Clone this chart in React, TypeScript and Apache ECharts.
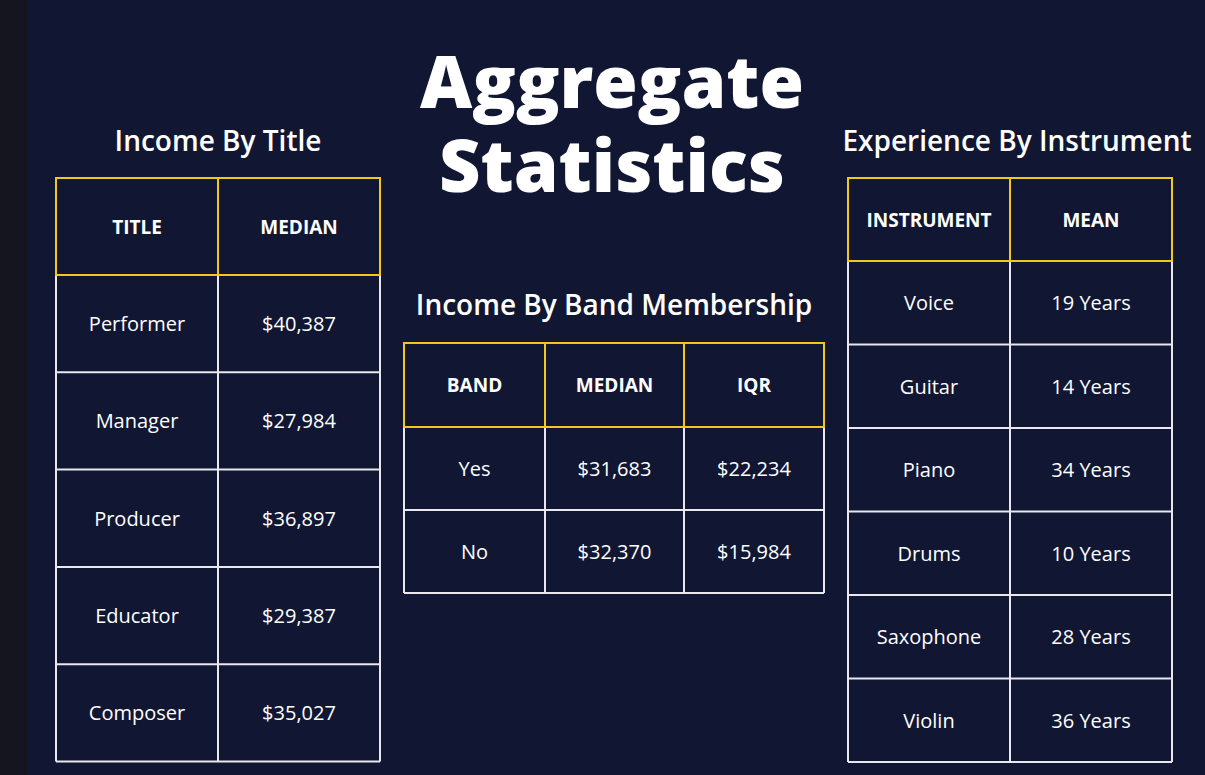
import React, { useEffect, useRef } from "react";
import * as echarts from "echarts";

const titleHeaders = ["TITLE", "MEDIAN"];
const titleNames = ["Performer", "Manager", "Producer", "Educator", "Composer"];
const titleMedians = ["$40,387", "$27,984", "$36,897", "$29,387", "$35,027"];

const bandHeaders = ["BAND", "MEDIAN", "IQR"];
const bandNames = ["Yes", "No"];
const bandMedians = ["$31,683", "$32,370"];
const bandIqr = ["$22,234", "$15,984"];

const instHeaders = ["INSTRUMENT", "MEAN"];
const instNames = ["Voice", "Guitar", "Piano", "Drums", "Saxophone", "Violin"];
const instMeans = ["19 Years", "14 Years", "34 Years", "10 Years", "28 Years", "36 Years"];

const FONT = "'Open Sans', 'Noto Sans', sans-serif";
const GOLD = "#f2c81e";

function table(cols: number[], top: number, headH: number, rowH: number, headers: string[], rows: string[][]) {
  const els: any[] = [];
  const left = cols[0], right = cols[cols.length - 1];
  const n = rows.length;
  const bottom = top + headH + rowH * n;
  for (let i = 0; i <= n; i++) {
    const y = top + headH + rowH * i;
    els.push({ type: "line", shape: { x1: left, y1: y, x2: right, y2: y }, style: { stroke: "#e8e8ee", lineWidth: 2 } });
  }
  cols.forEach((x) => {
    els.push({ type: "line", shape: { x1: x, y1: top + headH, x2: x, y2: bottom }, style: { stroke: "#e8e8ee", lineWidth: 2 } });
  });
  els.push({ type: "rect", shape: { x: left, y: top, width: right - left, height: headH }, style: { fill: "none", stroke: GOLD, lineWidth: 2 } });
  cols.slice(1, -1).forEach((x) => {
    els.push({ type: "line", shape: { x1: x, y1: top, x2: x, y2: top + headH }, style: { stroke: GOLD, lineWidth: 2 } });
  });
  headers.forEach((h, c) => {
    els.push({ type: "text", x: (cols[c] + cols[c + 1]) / 2, y: top + headH / 2, style: { text: h, fill: "#ffffff", font: `bold 19px ${FONT}`, align: "center", verticalAlign: "middle" } });
  });
  rows.forEach((r, i) => {
    r.forEach((v, c) => {
      els.push({ type: "text", x: (cols[c] + cols[c + 1]) / 2, y: top + headH + rowH * i + rowH / 2, style: { text: v, fill: "#ffffff", font: `20px ${FONT}`, align: "center", verticalAlign: "middle" } });
    });
  });
  return els;
}

export default function App() {
  const ref = useRef<HTMLDivElement>(null);
  useEffect(() => {
    const chart = echarts.init(ref.current!, null, { renderer: "svg" });
    const heading = (t: string, x: number, y: number) => ({ type: "text", x, y, style: { text: t, fill: "#ffffff", font: `600 28px ${FONT}`, align: "center", verticalAlign: "middle" } });
    const big = (t: string, y: number) => ({
      type: "text", x: 612, y,
      style: {
        text: t, fill: "#ffffff", font: `900 72px ${FONT}`, align: "center", verticalAlign: "middle",
        textShadowColor: "#4b2ee0", textShadowOffsetX: 4, textShadowOffsetY: 4, textShadowBlur: 0,
      },
    });
    chart.setOption({
      animation: false,
      backgroundColor: "#111733",
      graphic: [
        { type: "rect", shape: { x: 0, y: 0, width: 27, height: 775 }, style: { fill: "#15151f" } },
        big("Aggregate", 80),
        big("Statistics", 164),
        heading("Income By Title", 218, 140),
        heading("Income By Band Membership", 614, 304),
        heading("Experience By Instrument", 1017, 140),
        ...table([56, 218, 380], 178, 97, 97.3, titleHeaders, titleNames.map((t, i) => [t, titleMedians[i]])),
        ...table([404, 545, 684, 824], 343, 84, 83, bandHeaders, bandNames.map((t, i) => [t, bandMedians[i], bandIqr[i]])),
        ...table([848, 1010, 1172], 178, 83, 83.5, instHeaders, instNames.map((t, i) => [t, instMeans[i]])),
      ],
    });
    return () => chart.dispose();
  }, []);
  return <div ref={ref} style={{ position: "fixed", left: 0, top: 0, width: 1205, height: 775 }} />;
}
